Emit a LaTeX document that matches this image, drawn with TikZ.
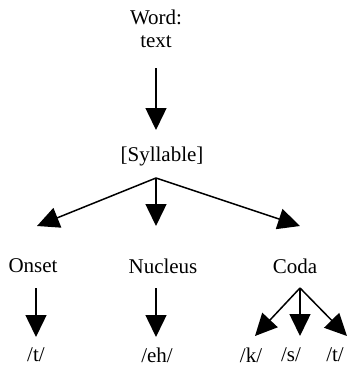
\documentclass[tikz,border=0pt]{standalone}
\usepackage{fontspec}
\setmainfont{Liberation Serif}
\usetikzlibrary{arrows.meta}
\begin{document}
\begin{tikzpicture}[x=1pt,y=-1pt,
  lbl/.style={inner sep=0pt,font=\fontsize{21}{23.5}\selectfont},
  arr/.style={line width=1.5pt,-{Triangle[length=22pt,width=21pt]}}]
\useasboundingbox (0,0) rectangle (349,370);
\node[lbl,align=center] (word) at (156,29) {Word:\\text};
\coordinate (w0) at (156,68);
\coordinate (w1) at (156,130);
\node[lbl] (syl) at (162,156) {[Syllable]};
\coordinate (s0) at (156,178);
\coordinate (sa) at (37,226);
\coordinate (sb) at (156,226);
\coordinate (sc) at (300,226);
\node[lbl] (onset) at (33,266) {Onset};
\node[lbl] (nuc) at (163,266) {Nucleus};
\node[lbl] (coda) at (295,266) {Coda};
\coordinate (o0) at (36,288);
\coordinate (o1) at (36,337);
\coordinate (n0) at (156,288);
\coordinate (n1) at (156,337);
\coordinate (c0) at (300,288);
\coordinate (ck) at (255,336);
\coordinate (cs) at (300,336);
\coordinate (ct) at (347,336);
\node[lbl] (t1) at (36,355) {/t/};
\node[lbl] (eh) at (157,355) {/eh/};
\node[lbl] (k) at (251,355) {/k/};
\node[lbl] (s) at (291,355) {/s/};
\node[lbl] (t2) at (335,355) {/t/};
\draw[arr] (w0) -- (w1);
\draw[arr] (s0) -- (sa);
\draw[arr] (s0) -- (sb);
\draw[arr] (s0) -- (sc);
\draw[arr] (o0) -- (o1);
\draw[arr] (n0) -- (n1);
\draw[arr] (c0) -- (ck);
\draw[arr] (c0) -- (cs);
\draw[arr] (c0) -- (ct);
\end{tikzpicture}
\end{document}
